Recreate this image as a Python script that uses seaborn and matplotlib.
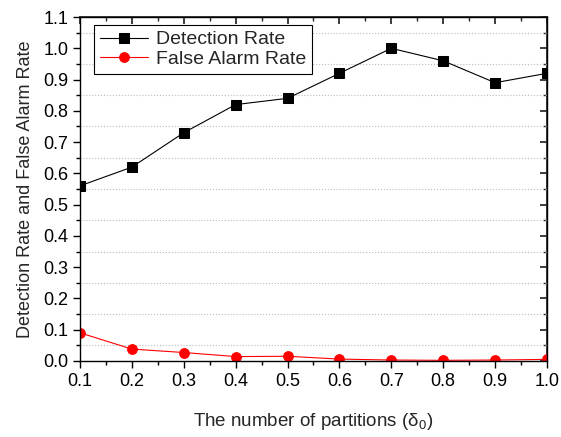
import matplotlib
matplotlib.use('Agg')
import matplotlib.pyplot as plt
import seaborn as sns
import numpy as np
import pandas as pd
from matplotlib.ticker import MultipleLocator

# values
partitions = [0.1, 0.2, 0.3, 0.4, 0.5, 0.6, 0.7, 0.8, 0.9, 1.0]
detection_rate = [0.56, 0.62, 0.73, 0.82, 0.84, 0.92, 1.00, 0.96, 0.89, 0.92]
false_alarm_rate = [0.090, 0.038, 0.027, 0.014, 0.015, 0.006, 0.003, 0.002, 0.003, 0.005]

sns.set_theme(style='ticks')
plt.rcParams['font.family'] = ['Liberation Sans', 'DejaVu Sans']
plt.rcParams['mathtext.fontset'] = 'custom'
plt.rcParams['mathtext.rm'] = 'Liberation Sans'
plt.rcParams['mathtext.it'] = 'Liberation Sans'

df = pd.DataFrame({'x': partitions, 'det': detection_rate, 'fa': false_alarm_rate})

fig = plt.figure(figsize=(5.61, 4.37), dpi=100)
ax = fig.add_axes([0.1426, 0.174, 0.8324, 0.787])

sns.lineplot(data=df, x='x', y='det', ax=ax, color='black', marker='s', markersize=6.5,
             markeredgecolor='black', linewidth=0.8, label='Detection Rate')
sns.lineplot(data=df, x='x', y='fa', ax=ax, color='red', marker='o', markersize=7,
             markeredgecolor='red', linewidth=0.8, label='False Alarm Rate')

ax.set_xlim(0.1, 1.0)
ax.set_ylim(0.0, 1.1)
ax.xaxis.set_major_locator(MultipleLocator(0.1))
ax.xaxis.set_minor_locator(MultipleLocator(0.05))
ax.yaxis.set_major_locator(MultipleLocator(0.1))
ax.yaxis.set_minor_locator(MultipleLocator(0.05))
ax.xaxis.set_major_formatter(plt.FormatStrFormatter('%.1f'))
ax.yaxis.set_major_formatter(plt.FormatStrFormatter('%.1f'))

# dotted grid only on the minor (0.05) y positions
ax.grid(False)
ax.yaxis.grid(True, which='minor', linestyle=':', color='#bcbcbc', linewidth=0.8)
ax.set_axisbelow(True)

for side in ['top', 'right', 'left', 'bottom']:
    ax.spines[side].set_visible(True)
    ax.spines[side].set_linewidth(1.0)
    ax.spines[side].set_color('black')

ax.tick_params(which='both', bottom=True, left=True, top=False, right=False,
               direction='out', color='black', labelsize=13, labelcolor='black')
ax.tick_params(which='major', length=5, width=1)
ax.tick_params(which='minor', length=3, width=1)
ax2 = ax.secondary_xaxis('top')
ax2.xaxis.set_major_locator(MultipleLocator(0.1))
ax2.xaxis.set_minor_locator(MultipleLocator(0.05))
ax2.tick_params(which='both', direction='in', labeltop=False)
ax2.tick_params(which='major', length=5)
ax2.tick_params(which='minor', length=3)
ay2 = ax.secondary_yaxis('right')
ay2.yaxis.set_major_locator(MultipleLocator(0.1))
ay2.yaxis.set_minor_locator(MultipleLocator(0.05))
ay2.tick_params(which='both', direction='in', labelright=False)
ay2.tick_params(which='major', length=5)
ay2.tick_params(which='minor', length=3)

ax.set_xlabel('The number of partitions ($\\mathregular{\\delta_0}$)', fontsize=13.5, labelpad=15)
ax.set_ylabel('Detection Rate and False Alarm Rate', fontsize=13, labelpad=6.5)

leg = ax.legend(loc='upper left', bbox_to_anchor=(0.03, 0.977), fontsize=14, frameon=True,
                fancybox=False, edgecolor='black', framealpha=1, borderpad=0.3,
                handlelength=2.5, handletextpad=0.4, labelspacing=0.1, borderaxespad=0)
leg.get_frame().set_linewidth(0.8)
leg.set_zorder(5)

fig.savefig('out.png', dpi=100)
